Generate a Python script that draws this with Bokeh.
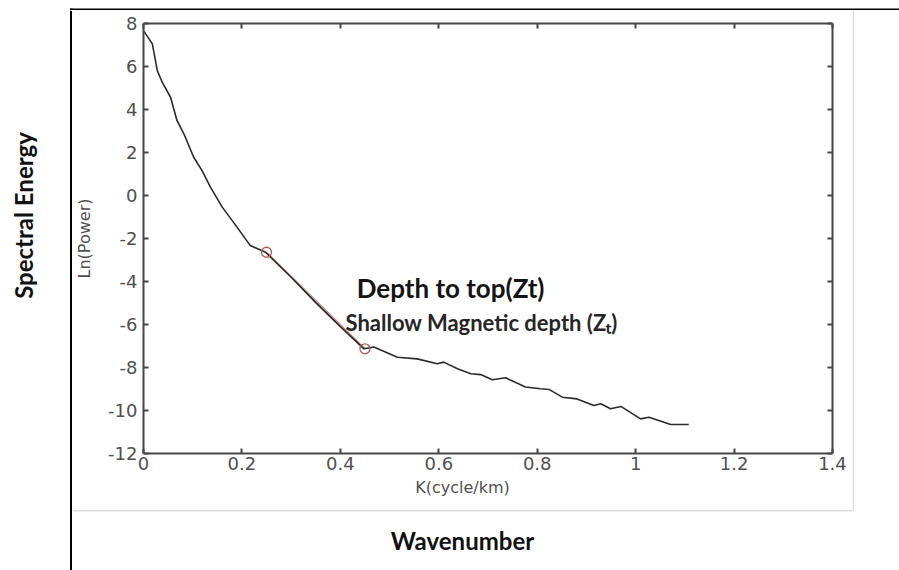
from bokeh.plotting import figure
from bokeh.models import Label, BoxAnnotation, LinearAxis, FixedTicker, Range1d
from bokeh.layouts import row, column
from bokeh.embed import file_html
from bokeh.resources import INLINE

# ---- data ----
k = [0.0, 0.018, 0.028, 0.038, 0.055, 0.068, 0.082, 0.102, 0.119, 0.136,
     0.160, 0.190, 0.217, 0.248, 0.300, 0.350, 0.400, 0.448, 0.468, 0.516,
     0.556, 0.597, 0.610, 0.638, 0.665, 0.685, 0.709, 0.736, 0.776, 0.807,
     0.824, 0.851, 0.881, 0.915, 0.929, 0.949, 0.970, 1.010, 1.027, 1.047,
     1.071, 1.108]
ln_power = [7.67, 7.05, 5.81, 5.27, 4.57, 3.49, 2.87, 1.78, 1.16, 0.39,
            -0.54, -1.47, -2.33, -2.64, -3.80, -4.98, -6.10, -7.13, -7.05, -7.52,
            -7.60, -7.83, -7.75, -8.06, -8.29, -8.33, -8.57, -8.48, -8.91, -8.99,
            -9.02, -9.38, -9.46, -9.77, -9.69, -9.92, -9.81, -10.39, -10.31, -10.47,
            -10.65, -10.65]
fit_k = [0.25, 0.45]
fit_ln_power = [-2.64, -7.13]

x_ticks = [0, 0.2, 0.4, 0.6, 0.8, 1.0, 1.2, 1.4]
x_tick_labels = ["0", "0.2", "0.4", "0.6", "0.8", "1", "1.2", "1.4"]
y_ticks = [-12, -10, -8, -6, -4, -2, 0, 2, 4, 6, 8]
y_tick_labels = ["-12", "-10", "-8", "-6", "-4", "-2", "0", "2", "4", "6", "8"]

title_top = "Depth to top(Zt)"
title_shallow = "Shallow Magnetic depth (Z\u209c)"
x_inner_label = "K(cycle/km)"
y_inner_label = "Ln(Power)"
x_outer_label = "Wavenumber"
y_outer_label = "Spectral Energy"

AX = "#474747"
TICKC = "#505050"
BORDER_GRAY = "#dcdcdc"


def blank_fig(w, h, xr, yr):
    f = figure(width=w, height=h, x_range=Range1d(*xr), y_range=Range1d(*yr),
               output_backend="svg", toolbar_location=None,
               x_axis_type=None, y_axis_type=None,
               min_border=0, min_border_left=0, min_border_right=0,
               min_border_top=0, min_border_bottom=0)
    f.grid.visible = False
    f.outline_line_color = None
    f.background_fill_color = "white"
    f.border_fill_color = "white"
    return f


def box(f, l, r, t, b, color):
    f.add_layout(BoxAnnotation(left=l, right=r, top=t, bottom=b,
                               fill_color=color, fill_alpha=1, line_color=None))


# ---- top strip (full width): black frame line ----
top = blank_fig(899, 10, (0, 899), (10, 0))
box(top, 69.5, 899, 6, 9.5, "black")
box(top, 69.5, 72, 6, 10, "black")

# ---- left strip: outer y label and black frame line ----
left = blank_fig(72, 560, (0, 72), (570, 10))
left.add_layout(Label(x=23, y=215, text=y_outer_label, angle=1.5708,
                      text_font="Lato", text_font_style="bold", text_font_size="24px",
                      text_color="#111111", text_align="center", text_baseline="middle"))
box(left, 69.5, 72, 10, 570, "black")

# ---- right strip: grey border of the inset ----
right = blank_fig(47, 560, (852, 899), (570, 10))
box(right, 852, 853.5, 10, 511, BORDER_GRAY)

# ---- bottom strip: inner x label, grey border line, outer x label ----
bottom = blank_fig(780, 92, (72, 852), (570, 478))
bottom.add_layout(Label(x=462, y=487, text=x_inner_label,
                        text_font="DejaVu Sans", text_font_size="16px", text_color=TICKC,
                        text_align="center", text_baseline="middle"))
box(bottom, 72, 852, 509.5, 511, BORDER_GRAY)
bottom.add_layout(Label(x=462, y=540, text=x_outer_label,
                        text_font="Lato", text_font_style="bold", text_font_size="24px",
                        text_color="#111111", text_align="center", text_baseline="middle"))

# ---- main chart ----
p = figure(width=780, height=468, x_range=Range1d(0, 1.4), y_range=Range1d(-12, 8),
           output_backend="svg", toolbar_location=None,
           min_border_left=71, min_border_right=20, min_border_top=13, min_border_bottom=25)
p.grid.visible = False
p.outline_line_color = None
p.background_fill_color = "white"
p.border_fill_color = "white"

for ax in (p.xaxis[0], p.yaxis[0]):
    ax.axis_line_color = AX
    ax.axis_line_width = 2
    ax.major_tick_line_color = AX
    ax.major_tick_line_width = 2
    ax.major_tick_in = 5
    ax.major_tick_out = 0
    ax.minor_tick_line_color = None
    ax.major_label_text_font = "DejaVu Sans"
    ax.major_label_text_font_size = "18px"
    ax.major_label_text_color = TICKC
p.xaxis[0].major_label_standoff = 3
p.yaxis[0].major_label_standoff = 6

p.xaxis[0].ticker = FixedTicker(ticks=x_ticks)
p.xaxis[0].major_label_overrides = {t: s for t, s in zip(x_ticks, x_tick_labels)}
p.yaxis[0].ticker = FixedTicker(ticks=y_ticks)
p.yaxis[0].major_label_overrides = {t: s for t, s in zip(y_ticks, y_tick_labels)}
p.yaxis[0].axis_label = y_inner_label
p.yaxis[0].axis_label_text_font = "DejaVu Sans"
p.yaxis[0].axis_label_text_font_size = "16px"
p.yaxis[0].axis_label_text_font_style = "normal"
p.yaxis[0].axis_label_text_color = TICKC
p.yaxis[0].axis_label_standoff = 11

top_ax = LinearAxis(ticker=FixedTicker(ticks=x_ticks))
right_ax = LinearAxis(ticker=FixedTicker(ticks=y_ticks))
for ax in (top_ax, right_ax):
    ax.axis_line_color = AX
    ax.axis_line_width = 2
    ax.major_tick_line_color = AX
    ax.major_tick_line_width = 2
    ax.major_tick_in = 5
    ax.major_tick_out = 0
    ax.minor_tick_line_color = None
    ax.major_label_text_color = None
    ax.major_label_text_font_size = "1px"
    ax.major_label_standoff = 0
p.add_layout(top_ax, "above")
p.add_layout(right_ax, "right")

# curve, fitted segment and picked points
p.line(fit_k, fit_ln_power, line_color="#c98b8b", line_width=1.5)
p.line(k, ln_power, line_color="#2b2b2b", line_width=1.6)
p.scatter(fit_k, fit_ln_power, marker="circle", size=10, fill_color=None,
          line_color="#b25a5a", line_width=1.3)

p.add_layout(Label(x=0.624, y=-4.28, text=title_top, text_font="Lato", text_font_style="bold",
                   text_font_size="26px", text_color="#141414", text_align="center",
                   text_baseline="middle"))
p.add_layout(Label(x=0.687, y=-5.91, text=title_shallow, text_font="Lato", text_font_style="bold",
                   text_font_size="22px", text_color="#262626", text_align="center",
                   text_baseline="middle"))

layout = column(top, row(left, column(row(p), bottom), right))
open("out.html", "w").write(file_html(layout, INLINE))
